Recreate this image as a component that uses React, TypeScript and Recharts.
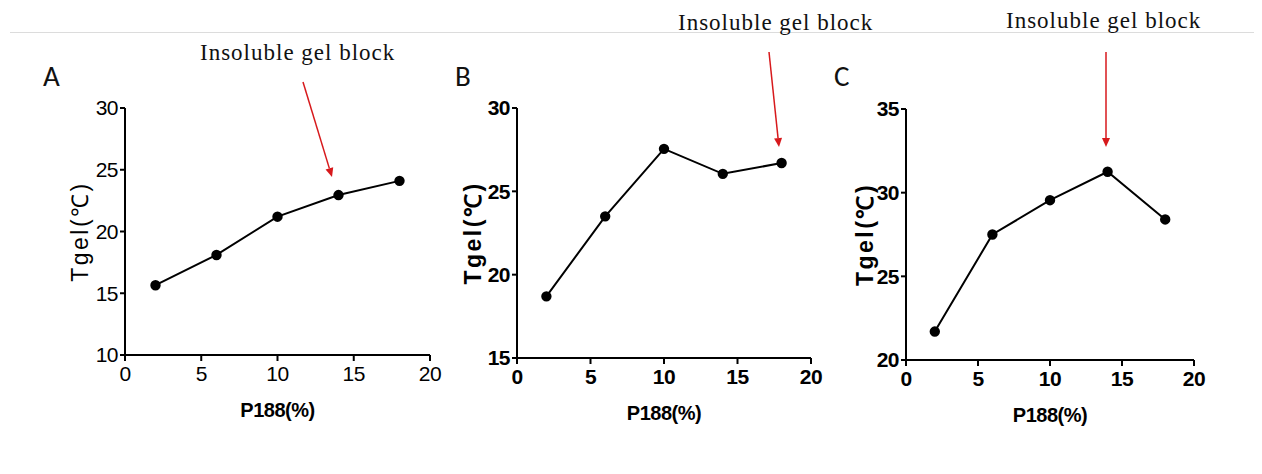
import React from "react";
import { LineChart, Line, XAxis, YAxis } from "recharts";

// P188 concentrations (%) shared by the three panels
const p188 = [2, 6, 10, 14, 18];
const xTicks = [0, 5, 10, 15, 20];

// Tgel (°C)
const tgelA = [15.65, 18.1, 21.2, 22.95, 24.1];
const tgelB = [18.7, 23.5, 27.55, 26.05, 26.7];
const tgelC = [21.7, 27.5, 29.55, 31.25, 28.4];

const yTicksA = [10, 15, 20, 25, 30];
const yTicksB = [15, 20, 25, 30];
const yTicksC = [20, 25, 30, 35];

const SANS = "'Liberation Sans', Arial, sans-serif";
const SERIF = "'Liberation Serif', 'Times New Roman', serif";

type PanelProps = {
  values: number[];
  yTicks: number[];
  left: number;
  width: number;
  margin: { top: number; right: number; bottom: number; left: number };
  yLabelOffset: number;
  bold: boolean;
};

function Panel({ values, yTicks, left, width, margin, yLabelOffset, bold }: PanelProps) {
  const data = p188.map((x, i) => ({ x, y: values[i] }));
  const tick = {
    fill: "#000",
    fontFamily: SANS,
    fontSize: 21,
    fontWeight: bold ? 700 : 400,
    letterSpacing: -0.5,
  };
  return (
    <div style={{ position: "absolute", left, top: 0 }}>
      <LineChart width={width} height={474} data={data} margin={margin}>
        <XAxis
          dataKey="x"
          type="number"
          domain={[0, 20]}
          ticks={xTicks}
          height={60}
          axisLine={{ stroke: "#000", strokeWidth: 2 }}
          tickLine={{ stroke: "#000", strokeWidth: 2 }}
          tickSize={6}
          tickMargin={5}
          tick={tick}
          label={{
            value: "P188(%)",
            position: "insideBottom",
            offset: -2,
            style: { fill: "#000", fontFamily: SANS, fontSize: 20, fontWeight: 700, letterSpacing: -0.5 },
          }}
        />
        <YAxis
          type="number"
          domain={[yTicks[0], yTicks[yTicks.length - 1]]}
          ticks={yTicks}
          width={60}
          axisLine={{ stroke: "#000", strokeWidth: 2 }}
          tickLine={{ stroke: "#000", strokeWidth: 2 }}
          tickSize={5}
          tickMargin={2}
          tick={tick}
          label={{
            value: "Tgel(℃)",
            angle: -90,
            position: "insideLeft",
            offset: yLabelOffset,
            style: {
              textAnchor: "middle",
              fill: "#000",
              fontFamily: SANS,
              fontSize: 23,
              fontWeight: bold ? 700 : 400,
              letterSpacing: 2.5,
            },
          }}
        />
        <Line
          dataKey="y"
          stroke="#000"
          strokeWidth={2}
          dot={{ r: 4.2, fill: "#000", stroke: "#000" }}
          isAnimationActive={false}
        />
      </LineChart>
    </div>
  );
}

function Arrow({ x1, y1, x2, y2 }: { x1: number; y1: number; x2: number; y2: number }) {
  const a = Math.atan2(y2 - y1, x2 - x1);
  const len = 9;
  const w = 4;
  const bx = x2 - len * Math.cos(a);
  const by = y2 - len * Math.sin(a);
  const px = -Math.sin(a) * w;
  const py = Math.cos(a) * w;
  return (
    <g>
      <line x1={x1} y1={y1} x2={bx} y2={by} stroke="#d7191c" strokeWidth={1.5} />
      <polygon
        points={`${x2},${y2} ${bx + px},${by + py} ${bx - px},${by - py}`}
        fill="#d7191c"
      />
    </g>
  );
}

export default function App() {
  const note = { fontFamily: SERIF, fontSize: 23, fill: "#111", letterSpacing: 1 };
  const letter = { fontFamily: "Carlito, 'Liberation Sans', sans-serif", fontSize: 29, fill: "#111" };
  return (
    <div
      style={{
        position: "relative",
        width: 1262,
        height: 474,
        margin: -8,
        background: "#fff",
        overflow: "hidden",
      }}
    >
      <Panel
        values={tgelA}
        yTicks={yTicksA}
        left={0}
        width={460}
        margin={{ top: 108, right: 30, bottom: 59, left: 65 }}
        yLabelOffset={15}
        bold={false}
      />
      <Panel
        values={tgelB}
        yTicks={yTicksB}
        left={420}
        width={430}
        margin={{ top: 108, right: 39, bottom: 56, left: 37 }}
        yLabelOffset={16}
        bold={true}
      />
      <Panel
        values={tgelC}
        yTicks={yTicksC}
        left={840}
        width={422}
        margin={{ top: 109, right: 68, bottom: 54, left: 6 }}
        yLabelOffset={19}
        bold={true}
      />
      <svg
        width={1262}
        height={474}
        style={{ position: "absolute", left: 0, top: 0, pointerEvents: "none" }}
      >
        <line x1={10} y1={32.5} x2={1262} y2={32.5} stroke="#dcdcdc" strokeWidth={1} />
        <text x={43} y={86} style={letter}>A</text>
        <text x={455} y={86} style={letter}>B</text>
        <text x={834} y={86} style={letter}>C</text>
        <text x={200} y={60} style={note}>Insoluble gel block</text>
        <text x={678} y={30} style={note}>Insoluble gel block</text>
        <text x={1006} y={28} style={note}>Insoluble gel block</text>
        <Arrow x1={303} y1={82} x2={332} y2={177} />
        <Arrow x1={769} y1={52} x2={779} y2={147} />
        <Arrow x1={1106} y1={52} x2={1106} y2={147} />
      </svg>
    </div>
  );
}
